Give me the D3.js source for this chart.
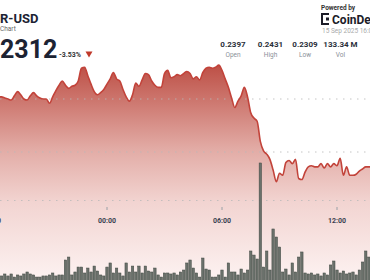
<!DOCTYPE html>
<html><head><meta charset="utf-8">
<script src="https://cdn.jsdelivr.net/npm/d3@7"></script>
<style>html,body{margin:0;padding:0;background:#fff;overflow:hidden}svg{display:block;font-family:Roboto,"Open Sans",sans-serif}</style>
</head><body><svg id="c" width="370" height="280"></svg>
<script>
// ---- data ----
const startTime = "2025-09-14T18:20";
const stepMinutes = 10;
const prices = [
0.2402,0.2402,0.2401,0.2400,0.2399,0.2403,0.2407,0.2404,0.2400,0.2399,
0.2403,0.2406,0.2403,0.2401,0.2400,0.2400,0.2396,0.2402,0.2408,0.2413,
0.2417,0.2413,0.2410,0.2412,0.2413,0.2417,0.2429,0.2430,0.2422,0.2414,
0.2407,0.2404,0.2406,0.2409,0.2414,0.2419,0.2425,0.2419,0.2417,0.2409,
0.2402,0.2398,0.2404,0.2415,0.2412,0.2418,0.2424,0.2423,0.2417,0.2413,
0.2411,0.2411,0.2424,0.2427,0.2420,0.2421,0.2423,0.2422,0.2424,0.2426,
0.2424,0.2419,0.2421,0.2418,0.2425,0.2429,0.2430,0.2429,0.2430,0.2432,
0.2427,0.2419,0.2411,0.2401,0.2392,0.2398,0.2403,0.2411,0.2402,0.2387,
0.2382,0.2379,0.2360,0.2351,0.2348,0.2343,0.2333,0.2322,0.2330,0.2328,
0.2340,0.2342,0.2339,0.2343,0.2325,0.2324,0.2331,0.2336,0.2337,0.2336,
0.2336,0.2339,0.2335,0.2339,0.2336,0.2339,0.2337,0.2344,0.2328,0.2336,
0.2328,0.2328,0.2329,0.2332,0.2334,0.2336,0.2336,0.2336];
const volumes = [ // millions
0.64,0.55,0.73,0.55,0.73,0.45,0.64,0.55,0.73,0.91,
0.73,0.64,0.45,0.45,0.55,0.55,0.64,0.82,0.55,0.64,
0.64,2.00,2.27,0.64,0.91,1.36,1.36,0.82,1.27,0.91,
1.45,1.00,0.64,0.55,1.36,1.73,0.82,1.27,0.82,0.55,
1.73,0.91,1.45,0.91,1.45,0.82,1.45,1.00,0.91,1.27,
0.64,0.45,0.82,0.82,0.73,0.82,0.64,0.91,1.09,1.73,
2.00,1.27,0.82,0.45,2.18,1.18,1.09,0.45,0.45,0.64,
1.09,0.45,1.73,0.91,0.91,0.64,1.18,0.82,1.09,2.82,
2.45,2.09,10.82,1.36,2.82,1.09,4.82,4.09,3.18,0.91,
1.18,0.64,1.73,0.91,2.27,2.73,0.82,0.73,0.82,0.64,
0.73,0.55,0.82,0.64,1.55,1.91,1.09,0.82,1.00,0.73,
0.82,0.91,0.64,1.09,1.82,2.82,2.27,1.55];
const priceGrid = [0.235, 0.240];
const tickTimes = ["2025-09-14T18:00","2025-09-15T00:00","2025-09-15T06:00","2025-09-15T12:00"];
const tickLabels = ["18:00","00:00","06:00","12:00"];
const statValues = ["0.2397","0.2431","0.2309","133.34 M"];
const statLabels = ["Open","High","Low","Vol"];
const pair = "R-USD";
const subtitle = "Chart";
const lastPrice = "2312";
const change = "-3.53%";
const dateText = "15 Sep 2025 16:00 UTC";

// ---- chart ----
const parse = d3.timeParse("%Y-%m-%dT%H:%M");
const t0 = parse(startTime);
const data = prices.map((p,i)=>({t:d3.timeMinute.offset(t0, i*stepMinutes), p, v:volumes[i]}));
const svg = d3.select("#c");
const x = d3.scaleTime().domain([parse(tickTimes[0]), parse(tickTimes[3])]).range([-8, 337]);
const y = d3.scaleLinear().domain([0.235, 0.240]).range([152, 99]);
const yv = d3.scaleLinear().domain([0, 12]).range([282, 150]);

const defs = svg.append("defs");
const g = defs.append("linearGradient").attr("id","ag").attr("gradientUnits","userSpaceOnUse")
  .attr("x1",0).attr("y1",60).attr("x2",0).attr("y2",282);
[[0,"#bb4a40"],[0.4,"#e2aba5"],[0.64,"#f2d4d1"],[1,"#fdf3f2"]].forEach(s=>
  g.append("stop").attr("offset",s[0]).attr("stop-color",s[1]));

svg.append("path").datum(data)
  .attr("d", d3.area().x(d=>x(d.t)).y0(290).y1(d=>y(d.p)).curve(d3.curveMonotoneX))
  .attr("fill","url(#ag)");

// grid
svg.selectAll(".grid").data(priceGrid).enter().append("line")
  .attr("x1",0).attr("x2",370).attr("y1",d=>y(d)).attr("y2",d=>y(d))
  .attr("stroke","#b9b9b9").attr("stroke-width",1).attr("stroke-dasharray","1.5,5.5").attr("opacity",0.8);
svg.append("line").attr("x1",0).attr("x2",370).attr("y1",200.5).attr("y2",200.5)
  .attr("stroke","#b9b9b9").attr("stroke-dasharray","1.5,5.5").attr("opacity",0.8);

svg.append("path").datum(data)
  .attr("d", d3.line().x(d=>x(d.t)).y(d=>y(d.p)).curve(d3.curveMonotoneX))
  .attr("fill","none").attr("stroke","#c2433a").attr("stroke-width",1.6);

// x axis
const ax = svg.append("g");
tickTimes.forEach((tt,i)=>{
  const xx = x(parse(tt));
  ax.append("line").attr("x1",xx).attr("x2",xx).attr("y1",207).attr("y2",210).attr("stroke","#9aa0a6");
  ax.append("text").attr("x",xx).attr("y",222.5).attr("text-anchor","middle")
    .attr("font-size",7).attr("font-weight","bold").attr("fill","#3a4150").text(tickLabels[i]);
});

// volume
svg.selectAll(".bar").data(data).enter().append("rect")
  .attr("x",d=>x(d.t)-1.2).attr("width",2.4)
  .attr("y",d=>yv(d.v)).attr("height",d=>yv(0)-yv(d.v))
  .attr("fill","#6a716b").attr("stroke","#414842").attr("stroke-width",0.5);

// header
svg.append("text").attr("x",0).attr("y",23).attr("font-size",13)
  .attr("font-weight","bold").attr("fill","#1c2333").text(pair);
svg.append("text").attr("x",0).attr("y",31).attr("font-size",6.5)
  .attr("fill","#666").text(subtitle);
svg.append("text").attr("x",0).attr("y",57.5).attr("font-size",25)
  .attr("font-weight","bold").attr("fill","#1c2333").text(lastPrice);
svg.append("text").attr("x",59).attr("y",57).attr("font-size",7).attr("font-weight","bold")
  .attr("fill","#333").text(change);
svg.append("path").attr("d","M85.5,51.5 L92.5,51.5 L89,57.5 Z").attr("fill","#c0392b");

svg.append("text").attr("x",321).attr("y",9.5).attr("font-size",6.5).attr("font-weight","bold")
  .attr("fill","#333").text("Powered by");
svg.append("path").attr("d","M329,14 H322 V24 H329").attr("fill","none").attr("stroke","#1c1c28").attr("stroke-width",2);
svg.append("rect").attr("x",326).attr("y",17.5).attr("width",3).attr("height",3).attr("fill","#1c1c28");
svg.append("text").attr("x",332).attr("y",23.5).attr("font-size",12).attr("font-weight","bold")
  .attr("fill","#1c1c28").text("CoinDesk");
svg.append("text").attr("x",322).attr("y",33).attr("font-size",6.5).attr("fill","#a9a9a9").text(dateText);

const statX = [233, 270.5, 305, 340.5];
statValues.forEach((s,i)=>{
  svg.append("text").attr("x",statX[i]).attr("y",47).attr("text-anchor","middle").attr("font-size",8)
    .attr("font-weight","bold").attr("fill","#2a2f3a").text(s);
  svg.append("text").attr("x",statX[i]).attr("y",57).attr("text-anchor","middle").attr("font-size",6.5)
    .attr("fill","#8a8f98").text(statLabels[i]);
});
</script></body></html>
